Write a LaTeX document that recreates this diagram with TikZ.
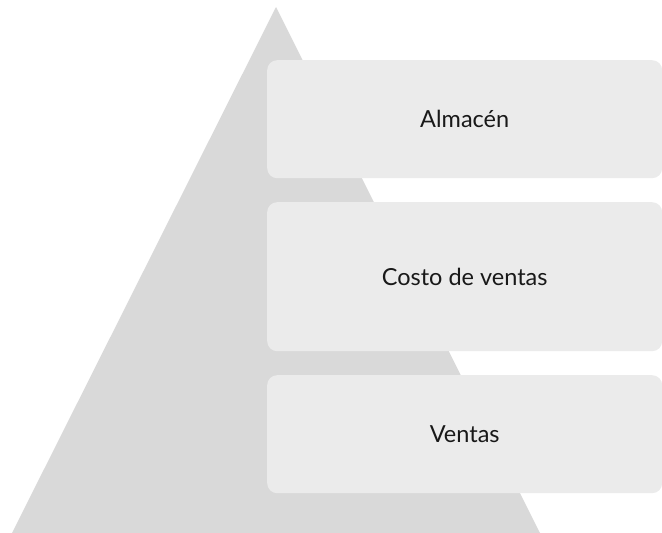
\documentclass[tikz,border=0pt]{standalone}
\usepackage{fontspec}
\setmainfont{Lato}
\definecolor{tri}{HTML}{D9D9D9}
\definecolor{boxfill}{HTML}{EBEBEB}
\begin{document}
\begin{tikzpicture}[x=1pt,y=-1pt,
  tier/.style={fill=boxfill, draw=none, rounded corners=10pt, minimum width=395pt, anchor=north west, inner sep=0pt, font=\fontsize{23.5}{28}\selectfont, text=black!90}]
\useasboundingbox (0,0) rectangle (662,533);
\fill[tri] (276,7) coordinate (apex) -- (540,533) coordinate (br) -- (12,533) coordinate (bl) -- cycle;
\node[tier, minimum height=118pt] (almacen) at (267,60) {Almacén};
\node[tier, minimum height=149pt] (costo) at (267,202) {Costo de ventas};
\node[tier, minimum height=118pt] (ventas) at (267,375) {Ventas};
\end{tikzpicture}
\end{document}
